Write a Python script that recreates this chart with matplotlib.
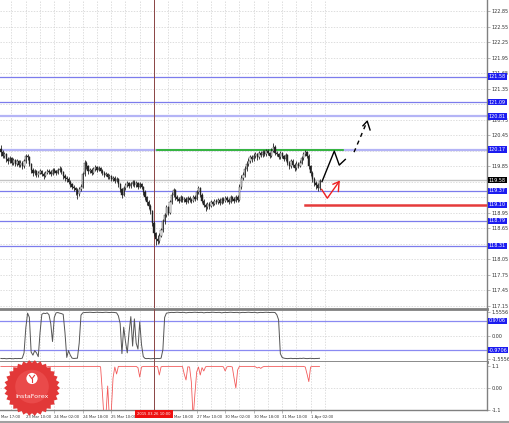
import matplotlib.pyplot as plt
import numpy as np
from matplotlib.transforms import blended_transform_factory
from matplotlib.patches import Polygon, Circle

# hourly bars (open = previous close)
first_open = 120.18
closes = [
    120.12, 120.05, 120.08, 119.98, 119.95, 120.00, 119.92, 119.96, 119.90, 119.94,
    119.88, 119.92, 119.85, 119.95, 120.05, 120.02, 119.90, 119.78, 119.72, 119.76,
    119.68, 119.72, 119.75, 119.70, 119.66, 119.72, 119.76, 119.74, 119.70, 119.78,
    119.75, 119.72, 119.77, 119.80, 119.74, 119.66, 119.62, 119.60, 119.55, 119.50,
    119.45, 119.42, 119.38, 119.32, 119.40, 119.45, 119.70, 119.92, 119.85, 119.75,
    119.78, 119.72, 119.80, 119.83, 119.78, 119.82, 119.76, 119.72, 119.68, 119.70,
    119.64, 119.66, 119.60, 119.62, 119.57, 119.60, 119.50, 119.40, 119.30, 119.42,
    119.48, 119.52, 119.46, 119.50, 119.55, 119.48, 119.52, 119.45, 119.50, 119.44,
    119.35, 119.25, 119.15, 119.08, 118.98, 118.75, 118.55, 118.45, 118.40, 118.50,
    118.62, 118.78, 118.90, 119.05, 118.95, 119.15, 119.30, 119.38, 119.25, 119.22,
    119.18, 119.25, 119.20, 119.22, 119.16, 119.24, 119.20, 119.18, 119.26, 119.22,
    119.35, 119.42, 119.30, 119.18, 119.10, 119.05, 119.12, 119.08, 119.15, 119.12,
    119.18, 119.15, 119.20, 119.14, 119.22, 119.18, 119.24, 119.20, 119.16, 119.25,
    119.22, 119.18, 119.26, 119.20, 119.45, 119.62, 119.68, 119.80, 119.90, 119.95,
    120.02, 119.98, 120.05, 120.08, 120.02, 120.10, 120.06, 120.12, 120.08, 120.14,
    120.10, 120.05, 120.15, 120.22, 120.10, 120.08, 120.02, 120.10, 120.04, 119.98,
    120.06, 119.92, 119.85, 119.95, 119.88, 119.82, 119.90, 119.86, 119.92, 120.00,
    120.08, 120.12, 120.05, 119.85, 119.72, 119.60, 119.52, 119.48, 119.42, 119.56,
]
highs = [
    120.26, 120.16, 120.12, 120.10, 120.02, 120.05, 120.03, 120.00, 119.99, 119.98,
    119.97, 119.96, 119.94, 119.99, 120.09, 120.08, 120.04, 119.92, 119.82, 119.80,
    119.78, 119.76, 119.80, 119.78, 119.73, 119.76, 119.80, 119.79, 119.77, 119.82,
    119.81, 119.78, 119.81, 119.86, 119.83, 119.76, 119.69, 119.66, 119.63, 119.58,
    119.53, 119.49, 119.45, 119.42, 119.44, 119.50, 119.74, 119.97, 119.95, 119.88,
    119.82, 119.81, 119.84, 119.87, 119.86, 119.86, 119.84, 119.79, 119.75, 119.74,
    119.72, 119.70, 119.68, 119.66, 119.65, 119.64, 119.62, 119.53, 119.43, 119.46,
    119.52, 119.56, 119.55, 119.54, 119.59, 119.58, 119.56, 119.55, 119.54, 119.53,
    119.47, 119.38, 119.28, 119.19, 119.11, 119.01, 118.79, 118.58, 118.52, 118.55,
    118.66, 118.82, 118.95, 119.10, 119.08, 119.20, 119.34, 119.42, 119.40, 119.29,
    119.26, 119.29, 119.28, 119.26, 119.25, 119.28, 119.27, 119.24, 119.30, 119.29,
    119.39, 119.46, 119.44, 119.33, 119.21, 119.14, 119.16, 119.15, 119.19, 119.18,
    119.22, 119.21, 119.24, 119.23, 119.26, 119.25, 119.28, 119.27, 119.23, 119.29,
    119.28, 119.25, 119.30, 119.29, 119.50, 119.67, 119.73, 119.85, 119.95, 120.00,
    120.07, 120.06, 120.10, 120.13, 120.11, 120.15, 120.14, 120.17, 120.16, 120.19,
    120.18, 120.13, 120.20, 120.30, 120.25, 120.14, 120.11, 120.15, 120.13, 120.07,
    120.10, 120.09, 119.95, 119.99, 119.98, 119.91, 119.94, 119.93, 119.96, 120.05,
    120.12, 120.17, 120.15, 120.08, 119.88, 119.75, 119.64, 119.56, 119.52, 119.60,
]
lows = [
    120.05, 120.00, 120.00, 119.93, 119.90, 119.92, 119.88, 119.88, 119.85, 119.86,
    119.83, 119.84, 119.80, 119.82, 119.92, 119.96, 119.85, 119.72, 119.66, 119.68,
    119.63, 119.64, 119.69, 119.65, 119.61, 119.63, 119.69, 119.70, 119.66, 119.68,
    119.71, 119.68, 119.69, 119.74, 119.70, 119.61, 119.57, 119.55, 119.50, 119.45,
    119.40, 119.36, 119.30, 119.22, 119.28, 119.36, 119.42, 119.66, 119.80, 119.70,
    119.71, 119.68, 119.69, 119.76, 119.74, 119.75, 119.72, 119.68, 119.64, 119.65,
    119.60, 119.61, 119.56, 119.57, 119.53, 119.54, 119.45, 119.34, 119.24, 119.27,
    119.39, 119.45, 119.42, 119.43, 119.47, 119.44, 119.45, 119.41, 119.42, 119.40,
    119.30, 119.20, 119.10, 119.02, 118.92, 118.70, 118.50, 118.32, 118.35, 118.36,
    118.47, 118.58, 118.74, 118.86, 118.90, 118.92, 119.12, 119.26, 119.20, 119.17,
    119.13, 119.15, 119.16, 119.16, 119.11, 119.13, 119.16, 119.14, 119.15, 119.18,
    119.19, 119.31, 119.26, 119.13, 119.05, 118.99, 119.02, 119.03, 119.05, 119.08,
    119.09, 119.11, 119.12, 119.10, 119.11, 119.14, 119.15, 119.16, 119.12, 119.13,
    119.18, 119.14, 119.15, 119.16, 119.17, 119.41, 119.58, 119.64, 119.76, 119.86,
    119.91, 119.93, 119.94, 120.01, 119.97, 119.99, 120.02, 120.02, 120.04, 120.05,
    120.06, 120.01, 120.02, 120.12, 120.06, 120.04, 119.98, 119.99, 120.00, 119.94,
    119.95, 119.87, 119.80, 119.82, 119.83, 119.76, 119.78, 119.82, 119.83, 119.89,
    119.97, 120.04, 120.01, 119.80, 119.66, 119.55, 119.47, 119.40, 119.36, 119.38,
]

# oscillator (middle panel) and red indicator (bottom panel), one value per bar
osc = [
    -1.52, -1.53, -1.52, -1.54, -1.53, -1.52, -1.53, -1.54, -1.52, -1.53,
    -1.52, -1.53, -1.50, -1.15, 0.50, 1.48, 1.20, -1.10, -1.30, -1.00,
    -1.15, -1.40, 0.20, 1.40, 1.48, 1.45, 1.50, 1.38, 0.80, -0.40,
    1.20, 1.50, 1.52, 1.48, 1.45, 1.40, 0.20, -1.45, -1.00, -1.30,
    -1.50, -1.52, -1.51, -1.50, -0.50, 1.35, 1.50, 1.52, 1.53, 1.53,
    1.54, 1.53, 1.52, 1.53, 1.54, 1.53, 1.53, 1.52, 1.53, 1.54,
    1.53, 1.52, 1.53, 1.53, 1.52, 1.50, 1.30, 0.80, -1.20, 0.55,
    -0.40, -1.15, 0.20, 1.25, -0.70, 1.10, -0.50, -0.90, 0.90, -0.60,
    -1.40, -1.52, -1.53, -1.52, -1.54, -1.53, -1.52, -1.53, -1.52, -1.53,
    -1.50, -0.95, 1.20, 1.48, 1.50, 1.52, 1.53, 1.52, 1.53, 1.54,
    1.53, 1.52, 1.53, 1.53, 1.50, 1.52, 1.53, 1.52, 1.53, 1.54,
    1.53, 1.52, 1.53, 1.53, 1.50, 1.52, 1.53, 1.52, 1.53, 1.54,
    1.53, 1.52, 1.53, 1.53, 1.50, 1.52, 1.53, 1.52, 1.53, 1.54,
    1.53, 1.52, 1.53, 1.53, 1.50, 1.52, 1.53, 1.52, 1.53, 1.54,
    1.53, 1.52, 1.53, 1.53, 1.50, 1.52, 1.53, 1.52, 1.53, 1.54,
    1.53, 1.52, 1.53, 1.53, 1.52, 1.38, 1.05, -1.20, -1.45, -1.50,
    -1.52, -1.53, -1.52, -1.51, -1.53, -1.52, -1.52, -1.53, -1.51, -1.52,
    -1.50, -1.52, -1.53, -1.52, -1.51, -1.52, -1.53, -1.52, -1.52, -1.51,
]
red_ind = [
    1.08, 1.08, 1.07, 1.08, 1.08, 1.08, 1.07, 1.08, 1.08, 1.08,
    1.08, 1.08, 1.08, 1.07, 1.08, 1.08, 1.08, 1.06, 0.82, 1.06,
    1.08, 1.08, 1.08, 1.08, 1.02, 0.90, 1.06, 1.08, 1.08, 1.08,
    1.08, 1.08, 1.08, 1.08, 1.08, 1.08, 1.08, 1.08, 1.08, 1.08,
    1.08, 1.08, 1.08, 1.08, 1.08, 1.08, 1.08, 1.08, 1.08, 1.08,
    1.08, 1.08, 1.08, 1.08, 1.08, 1.08, 1.06, -0.20, -1.60, -1.40,
    0.10, -1.60, -1.20, 0.50, 1.05, 0.70, 1.08, 1.08, 1.08, 1.08,
    1.08, 1.08, 1.08, 1.08, 1.08, 1.08, 1.08, 1.02, 0.55, 1.05,
    1.08, 1.08, 1.08, 1.08, 1.08, 1.08, 1.08, 1.08, 1.08, 0.65,
    1.06, 1.08, 1.08, 1.08, 1.08, 1.08, 1.08, 1.08, 1.08, 1.08,
    1.08, 1.08, 1.08, 0.70, 0.40, 1.06, 1.05, 0.30, -1.50, -0.30,
    0.80, 1.05, 0.65, 1.02, 0.85, 1.06, 1.08, 1.08, 1.08, 1.08,
    1.08, 1.08, 1.08, 1.08, 1.08, 1.06, 0.85, 1.06, 1.08, 1.08,
    1.05, 0.50, 0.00, 0.90, 1.08, 1.08, 1.08, 1.08, 1.08, 1.08,
    1.08, 1.08, 1.08, 1.06, 1.00, 1.04, 0.98, 1.05, 1.08, 1.08,
    1.08, 1.08, 1.08, 1.08, 1.08, 1.08, 1.08, 1.08, 1.08, 1.08,
    1.08, 1.08, 1.08, 1.08, 1.08, 1.08, 1.08, 1.08, 1.08, 1.08,
    1.08, 1.05, 0.70, 0.32, 1.05, 1.08, 1.08, 1.08, 1.08, 1.08,
]

# horizontal levels
levels = [121.58, 121.09, 120.81, 120.17, 119.37, 118.79, 118.31]
soft_levels = [120.81, 120.17]
resistance = 120.16
support = 119.10
bid = 119.58
osc_levels = [0.9706, -0.9706]

# forecast sketch (bar, price)
fc_solid = [(180.4, 119.55), (187.3, 120.14), (190.1, 119.87), (193.5, 119.98)]
fc_dash = [(198.4, 120.12), (205.8, 120.72)]
fc_dash_head = [(203.4, 120.63), (205.8, 120.72), (207.4, 120.55)]
fc_red = [(180.2, 119.40), (183.4, 119.23), (190.0, 119.55)]
fc_red_head = [(186.6, 119.50), (190.0, 119.55), (189.6, 119.36)]

# price scale labels (the ones under the level boxes are not shown)
price_ticks = [117.15, 117.45, 117.75, 118.05, 118.65, 118.95, 119.85, 120.45,
               120.75, 121.35, 121.65, 121.95, 122.25, 122.55, 122.85]
grid_prices = [117.15 + 0.30 * k for k in range(20)]
time_ticks = [14, 30, 46, 62, 78, 94, 110, 126, 142, 158, 174]
time_labels = ['23 Mar 10:00', '24 Mar 02:00', '24 Mar 18:00',
               '25 Mar 10:00', '26 Mar 02:00', '26 Mar 18:00', '27 Mar 10:00',
               '30 Mar 02:00', '30 Mar 18:00', '31 Mar 10:00', '1 Apr 02:00']
first_tick = -2.5
first_label = 'Mar 17:00'   # only this part of "20 Mar 17:00" is in view
marker_bar = 86
marker_label = '2015.03.26 10:00'

W, H = 510, 423
fig = plt.figure(figsize=(W / 100, H / 100), dpi=100)
fig.patch.set_facecolor('white')
pw = 487 / W
ax = fig.add_axes([0, 1 - 308 / H, pw, 308 / H])
ax2 = fig.add_axes([0, 1 - 362 / H, pw, 53 / H], sharex=ax)
ax3 = fig.add_axes([0, 1 - 410 / H, pw, 48 / H], sharex=ax)

fs = 3.5
xfs = 2.7
tcol = '#333333'
grid_kw = dict(color='#d0d0d0', lw=0.5, linestyle=(0, (2, 2)), zorder=0.5)
blue = '#1c1cf0'
box = dict(boxstyle='square,pad=0.15', fc=blue, ec='none')

for a in (ax, ax2, ax3):
    a.set_facecolor('white')
    for s in ('left', 'top', 'bottom'):
        a.spines[s].set_visible(False)
    a.spines['right'].set_color('#808080')
    a.spines['right'].set_linewidth(1)
    a.yaxis.tick_right()
    a.tick_params(axis='y', labelsize=fs, colors='#808080', labelcolor=tcol,
                  length=2, width=0.4, pad=1.5)
    a.tick_params(axis='x', labelbottom=False, length=0)
    a.set_xticks(time_ticks)
    for t in [first_tick] + time_ticks:
        a.axvline(t, **grid_kw)
        a.axvline(t + 8, **grid_kw)
    a.axvline(marker_bar, color='#8a4444', lw=0.7, zorder=3)

ax.set_xlim(-0.5, 273.1)

# price panel
ax.set_ylim(117.106, 123.063)
ax.set_yticks(price_ticks)
ax.set_yticklabels([f'{p:.2f}' for p in price_ticks])
for gp in grid_prices:
    ax.axhline(gp, **grid_kw)

n = len(closes)
x = np.arange(n)
c = np.array(closes)
o = np.array([first_open] + closes[:-1])
ax.vlines(x, lows, highs, color='#222222', lw=0.6, zorder=4)
up = c >= o
ax.bar(x[up], (c - o)[up], bottom=o[up], width=0.7, color='white',
       edgecolor='#222222', lw=0.3, zorder=5)
ax.bar(x[~up], (o - c)[~up], bottom=c[~up], width=0.7, color='#222222',
       edgecolor='#222222', lw=0.3, zorder=5)

ax.axhline(bid, color='#c4c4c4', lw=1, zorder=2)
for lv in levels:
    if lv in soft_levels:
        ax.axhline(lv, color='#b4b4f6', lw=1.6, zorder=2)
    else:
        ax.axhline(lv, color='#7c7cec', lw=0.9, zorder=2)
ax.plot([87.7, 192.2], [resistance, resistance], color='#1fb51f', lw=1.2, zorder=3)
ax.plot([170.8, 273.1], [support, support], color='#e53b3b', lw=1.8, zorder=3)

ax.plot(*zip(*fc_solid), color='black', lw=1.0, zorder=6)
ax.plot(*zip(*fc_dash), color='black', lw=1.0, linestyle=(0, (3, 3)), zorder=6)
ax.plot(*zip(*fc_dash_head), color='black', lw=1.0, zorder=6)
ax.plot(*zip(*fc_red), color='#ee2020', lw=1.0, zorder=6)
ax.plot(*zip(*fc_red_head), color='#ee2020', lw=1.0, zorder=6)

tr = blended_transform_factory(ax.transAxes, ax.transData)
for lv in levels + [support]:
    ax.text(1.004, lv, f'{lv:.2f}', transform=tr, fontsize=fs, color='white',
            va='center', ha='left', clip_on=False, zorder=10, bbox=box)
ax.text(1.004, bid, f'{bid:.2f}', transform=tr, fontsize=fs, color='white',
        va='center', ha='left', clip_on=False, zorder=10,
        bbox=dict(boxstyle='square,pad=0.15', fc='black', ec='none'))

# oscillator panel
ax2.plot(x, osc, color='#555555', lw=0.7, zorder=4)
ax2.set_ylim(-1.754, 1.754)
ax2.set_yticks([-1.5556, 0, 1.5556])
ax2.set_yticklabels(['-1.5556', '0.00', '1.5556'])
ax2.axhline(0, **grid_kw)
for lv in osc_levels:
    ax2.axhline(lv, color='#8a8af2', lw=0.9, zorder=2)
tr2 = blended_transform_factory(ax2.transAxes, ax2.transData)
for lv in osc_levels:
    ax2.text(1.004, lv, f'{lv:.4f}', transform=tr2, fontsize=fs, color='white',
             va='center', ha='left', clip_on=False, zorder=10, bbox=box)
for s in ('top', 'bottom'):
    ax2.spines[s].set_visible(True)
    ax2.spines[s].set_color('#808080')
    ax2.spines[s].set_linewidth(2)

# red indicator panel
ax3.plot(x, red_ind, color='#f25a5a', lw=0.6, zorder=4)
ax3.set_ylim(-1.1, 1.3)
ax3.set_yticks([-1.1, 0, 1.1])
ax3.set_yticklabels(['-1.1', '0.00', '1.1'])
ax3.axhline(0, **grid_kw)
ax3.spines['bottom'].set_visible(True)
ax3.spines['bottom'].set_color('#808080')
ax3.spines['bottom'].set_linewidth(1)
ax3.tick_params(axis='x', which='major', labelbottom=True, length=2, width=0.4,
                colors='#808080', labelcolor=tcol, labelsize=xfs, pad=1.5)
ax3.set_xticklabels(time_labels, ha='left')
trx = blended_transform_factory(ax3.transAxes, ax3.transAxes)
ax3.text(0.002, -0.11, first_label, transform=trx, fontsize=xfs, color=tcol,
         ha='left', va='top', clip_on=False)
trm = blended_transform_factory(ax3.transData, ax3.transAxes)
ax3.text(marker_bar, -0.04, marker_label, transform=trm,
         fontsize=xfs, color='white', ha='center', va='top', clip_on=False, zorder=10,
         bbox=dict(boxstyle='square,pad=0.5', fc='#ee1111', ec='none'))

fig.add_artist(plt.Line2D([0, 1], [1.5 / H, 1.5 / H], transform=fig.transFigure,
                          color='#a0a0a0', lw=1.5))

# InstaForex badge
lg = fig.add_axes([4 / W, (H - 416) / H, 56 / W, 56 / H])
lg.set_xlim(-1, 1)
lg.set_ylim(-1, 1)
lg.axis('off')
ang = np.linspace(0, 2 * np.pi, 61)
rad = np.where(np.arange(61) % 2 == 0, 1.0, 0.9)
lg.add_patch(Polygon(np.column_stack([rad * np.cos(ang), rad * np.sin(ang)]),
                     closed=True, fc='#e23838', ec='none'))
lg.add_patch(Circle((0, 0.05), 0.6, fc='#ea4a4a', ec='none'))
lg.add_patch(Circle((0, 0.34), 0.2, fc='white', ec='none'))
lg.plot([-0.09, 0, 0.09], [0.45, 0.33, 0.45], color='#e33a3a', lw=0.8)
lg.plot([0, 0], [0.33, 0.2], color='#e33a3a', lw=0.8)
lg.text(0, -0.3, 'InstaForex', color='white', fontsize=4.6, ha='center', va='center')

fig.savefig('out.png', dpi=100, facecolor='white')
